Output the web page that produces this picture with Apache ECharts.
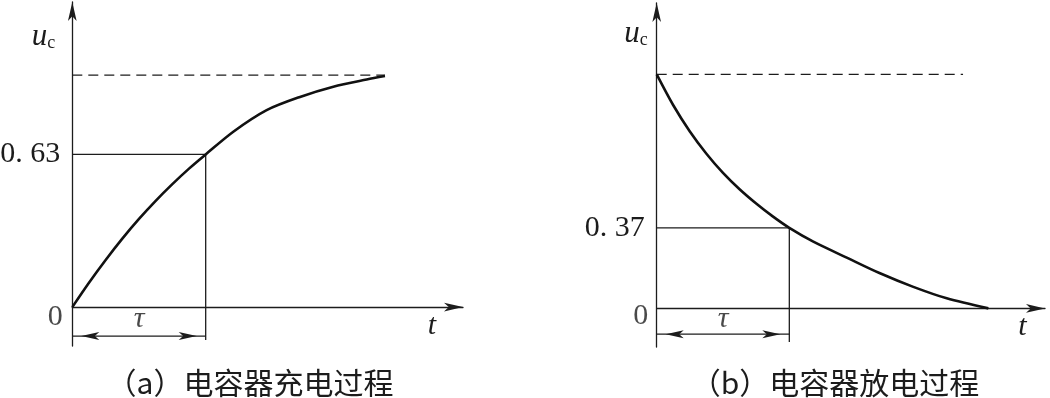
<!DOCTYPE html>
<html>
<head>
<meta charset="utf-8">
<script src="https://cdn.jsdelivr.net/npm/echarts@6/dist/echarts.min.js"></script>
<style>html,body{margin:0;padding:0;background:#fff}#c{width:1050px;height:398px}</style>
</head>
<body>
<div id="c"></div>
<script>
// (a) charging curve, u_c (relative) vs t / tau
const chargeT = [0, 0.125, 0.25, 0.375, 0.5, 0.625, 0.75, 0.875, 1.0, 1.207, 1.457, 1.707, 1.957, 2.207, 2.344];
const chargeU = [0, 0.105, 0.203, 0.295, 0.380, 0.458, 0.530, 0.597, 0.658, 0.756, 0.849, 0.906, 0.950, 0.981, 0.996];
// (b) discharging curve
const dischargeT = [0, 0.125, 0.25, 0.375, 0.5, 0.625, 0.75, 0.875, 1.0, 1.181, 1.433, 1.684, 1.935, 2.187, 2.501];
const dischargeU = [1.0, 0.868, 0.756, 0.661, 0.579, 0.509, 0.448, 0.393, 0.344, 0.285, 0.217, 0.150, 0.092, 0.043, 0.0];

const tau = 1;                        // time constant position
const levels = [0.658, 0.344];        // drawn heights of the marked levels
const levelLabels = ['0. 63', '0. 37'];
const finalLevel = 1;                 // dashed asymptote / initial value
const dashEnds = [2.344, 2.31];
const helperBottoms = [-0.142, -0.144];
const tauArrowY = [-0.125, -0.11];
const captions = ['（a）电容器充电过程', '（b）电容器放电过程'];

const AX = '#1c1c1c';
const SERIF = 'Liberation Serif';
const ARROW = [6, 18];
const pairs = (xs, ys) => xs.map((x, i) => [x, ys[i]]);

const panels = [
  { grid: { left: 72.3, top: 2, width: 390.7, height: 344.1 }, xMax: 2.929, yMin: -0.168, yMax: 1.315,
    tNameGap: -31, ucGap: -35, ucPad: 17, zeroDist: 9, zeroOff: 10, tauDist: 2, capX: 245,
    curve: pairs(chargeT, chargeU) },
  { grid: { left: 656.7, top: 3, width: 388.3, height: 344.0 }, xMax: 2.928, yMin: -0.165, yMax: 1.305,
    tNameGap: -22.5, ucGap: -31, ucPad: 9, zeroDist: 8, zeroOff: 8, tauDist: 0, capX: 830,
    curve: pairs(dischargeT, dischargeU) }
];

const option = {
  animation: false,
  backgroundColor: '#fff',
  title: panels.map((p, i) => ({
    text: captions[i], left: p.capX, top: 363, textAlign: 'center',
    textStyle: { fontFamily: 'Noto Sans CJK SC', fontWeight: 'normal', fontSize: 30, color: AX }
  })),
  grid: panels.map(p => Object.assign({ containLabel: false, outerBoundsMode: 'none' }, p.grid)),
  xAxis: panels.map((p, i) => ({
    type: 'value', gridIndex: i, min: 0, max: p.xMax,
    axisLine: { show: true, onZero: true, symbol: ['none', 'arrow'], symbolSize: [6.5, 19], lineStyle: { color: AX, width: 1.3 } },
    axisTick: { show: false }, axisLabel: { show: false }, splitLine: { show: false },
    name: 't', nameLocation: 'end', nameGap: p.tNameGap,
    nameTextStyle: { fontFamily: SERIF, fontStyle: 'italic', fontSize: 30, color: AX, align: 'center', verticalAlign: 'top', lineHeight: 38 }
  })),
  yAxis: panels.map((p, i) => ({
    type: 'value', gridIndex: i, min: p.yMin, max: p.yMax,
    axisLine: { show: true, onZero: true, symbol: ['none', 'arrow'], symbolSize: [6.5, 19], lineStyle: { color: AX, width: 1.3 } },
    axisTick: { show: false }, splitLine: { show: false },
    axisLabel: { show: true, customValues: [levels[i]], formatter: () => levelLabels[i], margin: 12, fontFamily: SERIF, fontSize: 30, color: AX },
    name: '{u|u}{c|c}', nameLocation: 'end', nameGap: p.ucGap,
    nameTextStyle: { align: 'right', verticalAlign: 'middle', padding: [0, p.ucPad, 0, 0],
      rich: { u: { fontFamily: SERIF, fontStyle: 'italic', fontSize: 31, color: AX },
              c: { fontFamily: SERIF, fontSize: 18, color: AX, verticalAlign: 'bottom' } } }
  })),
  series: panels.flatMap((p, i) => [
    // 0.63 / 0.37 guide lines
    { type: 'line', xAxisIndex: i, yAxisIndex: i, silent: true, symbol: 'none',
      data: [[0, levels[i]], [tau, levels[i]], [tau, helperBottoms[i]]],
      lineStyle: { color: AX, width: 1.3 } },
    // asymptote / initial value
    { type: 'line', xAxisIndex: i, yAxisIndex: i, silent: true, symbol: 'none',
      data: [[0, finalLevel], [dashEnds[i], finalLevel]],
      lineStyle: { color: AX, width: 1.4, type: [10, 6] } },
    // u_c(t)
    { type: 'line', xAxisIndex: i, yAxisIndex: i, silent: true, symbol: 'none', smooth: 0.3,
      data: p.curve, lineStyle: { color: '#111', width: 2.6 } },
    // tau dimension arrow
    { type: 'line', xAxisIndex: i, yAxisIndex: i, silent: true, showSymbol: true, symbol: 'arrow', symbolSize: ARROW,
      itemStyle: { color: AX }, lineStyle: { color: AX, width: 1.3 },
      data: [
        { value: [0, tauArrowY[i]], symbolRotate: 90, symbolOffset: [ARROW[1] / 2, 0] },
        { value: [tau, tauArrowY[i]], symbolRotate: -90, symbolOffset: [-ARROW[1] / 2, 0] }
      ] },
    // labels: tau and origin
    { type: 'scatter', xAxisIndex: i, yAxisIndex: i, silent: true, symbolSize: 1,
      itemStyle: { color: 'rgba(0,0,0,0)' },
      data: [
        { value: [tau / 2, tauArrowY[i]], label: { show: true, position: 'top', distance: p.tauDist, formatter: 'τ', fontFamily: SERIF, fontStyle: 'italic', fontSize: 30, color: AX } },
        { value: [0, 0], label: { show: true, position: 'left', distance: p.zeroDist, offset: [0, p.zeroOff], formatter: '0', fontFamily: SERIF, fontSize: 30, color: AX } }
      ] }
  ])
};

const chart = echarts.init(document.getElementById('c'), null, { renderer: 'canvas' });
chart.setOption(option);
</script>
</body>
</html>
